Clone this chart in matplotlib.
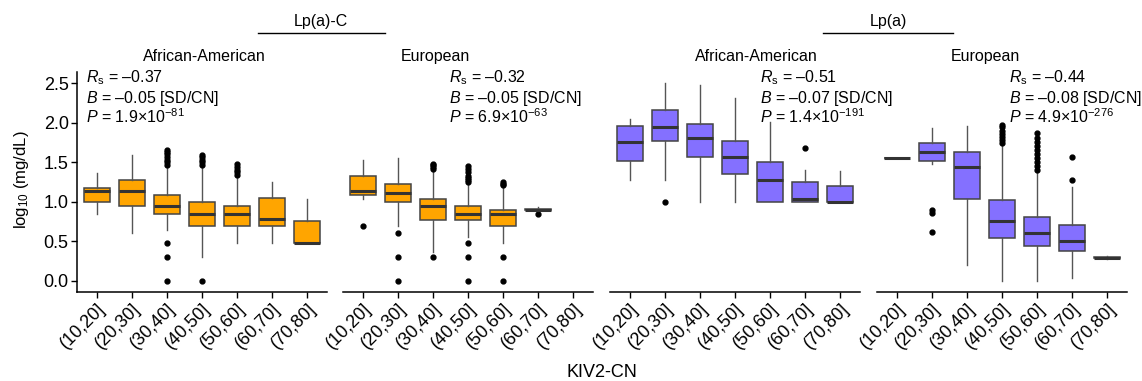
import matplotlib
matplotlib.use("Agg")
import matplotlib.pyplot as plt
import numpy as np

plt.rcParams['font.family'] = ['Liberation Sans', 'DejaVu Sans']
plt.rcParams['mathtext.fontset'] = 'custom'
plt.rcParams['mathtext.rm'] = 'Liberation Sans'
plt.rcParams['mathtext.it'] = 'Liberation Sans:italic'
plt.rcParams['mathtext.bf'] = 'Liberation Sans:bold'

bins = ["(10,20]", "(20,30]", "(30,40]", "(40,50]", "(50,60]", "(60,70]", "(70,80]"]

# Lp(a)-C, African-American
aa_c_lo = [0.85, 0.60, 0.64, 0.30, 0.475, 0.475, 0.477]
aa_c_q1 = [1.00, 0.95, 0.84, 0.695, 0.695, 0.695, 0.477]
aa_c_med = [1.14, 1.14, 0.95, 0.845, 0.845, 0.78, 0.477]
aa_c_q3 = [1.18, 1.275, 1.08, 1.00, 0.95, 1.05, 0.76]
aa_c_hi = [1.36, 1.59, 1.44, 1.455, 1.32, 1.25, 1.035]
aa_c_fl = [[], [],
           [0.0, 0.30, 0.475, 1.47, 1.50, 1.53, 1.56, 1.60, 1.63, 1.66],
           [0.0, 1.47, 1.50, 1.53, 1.56, 1.59],
           [1.34, 1.37, 1.40, 1.44, 1.48],
           [], []]

# Lp(a)-C, European
eu_c_lo = [1.035, 0.695, 0.36, 0.55, 0.475, 0.89, None]
eu_c_q1 = [1.085, 1.00, 0.77, 0.77, 0.695, 0.895, None]
eu_c_med = [1.14, 1.115, 0.95, 0.845, 0.845, 0.90, None]
eu_c_q3 = [1.325, 1.23, 1.04, 0.95, 0.90, 0.905, None]
eu_c_hi = [1.53, 1.55, 1.40, 1.21, 1.17, 0.93, None]
eu_c_fl = [[0.695],
           [0.0, 0.30, 0.60],
           [0.30, 1.42, 1.44, 1.46, 1.48],
           [0.0, 0.30, 0.475, 1.25, 1.28, 1.30, 1.33, 1.37, 1.41, 1.45],
           [0.0, 0.30, 1.21, 1.23, 1.25],
           [0.84], []]

# Lp(a), African-American
aa_a_lo = [1.28, 1.28, 1.00, 1.00, 1.00, 1.00, 1.00]
aa_a_q1 = [1.52, 1.77, 1.57, 1.35, 1.00, 1.00, 1.00]
aa_a_med = [1.75, 1.95, 1.80, 1.57, 1.275, 1.035, 1.00]
aa_a_q3 = [1.96, 2.16, 1.98, 1.77, 1.50, 1.25, 1.20]
aa_a_hi = [2.05, 2.50, 2.47, 2.31, 2.01, 1.40, 1.39]
aa_a_fl = [[], [1.00], [], [], [], [1.675], []]

# Lp(a), European
eu_a_lo = [1.55, 1.48, 0.20, 0.0, 0.0, 0.04, 0.28]
eu_a_q1 = [1.55, 1.51, 1.03, 0.54, 0.44, 0.38, 0.285]
eu_a_med = [1.55, 1.63, 1.44, 0.76, 0.60, 0.50, 0.295]
eu_a_q3 = [1.55, 1.74, 1.625, 1.02, 0.81, 0.71, 0.305]
eu_a_hi = [1.55, 1.93, 1.96, 1.72, 1.38, 1.19, 0.31]
eu_a_fl = [[], [0.615, 0.86, 0.90], [],
           [1.74, 1.78, 1.82, 1.86, 1.90, 1.94, 1.97],
           [1.40, 1.45, 1.50, 1.55, 1.60, 1.65, 1.70, 1.75, 1.80, 1.87],
           [1.275, 1.56], []]

titles = ["African-American", "European", "African-American", "European"]
stats_text = [("–0.37", "–0.05", "1.9", "-81"),
              ("–0.32", "–0.05", "6.9", "-63"),
              ("–0.51", "–0.07", "1.4", "-191"),
              ("–0.44", "–0.08", "4.9", "-276")]

panels = [
    (aa_c_lo, aa_c_q1, aa_c_med, aa_c_q3, aa_c_hi, aa_c_fl, "#FFA500"),
    (eu_c_lo, eu_c_q1, eu_c_med, eu_c_q3, eu_c_hi, eu_c_fl, "#FFA500"),
    (aa_a_lo, aa_a_q1, aa_a_med, aa_a_q3, aa_a_hi, aa_a_fl, "#8470FF"),
    (eu_a_lo, eu_a_q1, eu_a_med, eu_a_q3, eu_a_hi, eu_a_fl, "#8470FF"),
]

W, H = 1142, 381
fig = plt.figure(figsize=(W / 100, H / 100), dpi=100)

left_px = [77, 343, 610, 877]
title_x = [204, 435, 756, 985]
note_x = [86, 449, 760, 1009]
ax_w = 250
ax_top, ax_bot = 72, 292

for i, (lo, q1, med, q3, hi, fl, col) in enumerate(panels):
    ax = fig.add_axes([left_px[i] / W, 1 - ax_bot / H, ax_w / W, (ax_bot - ax_top) / H])
    stats = []
    pos = []
    for k in range(len(bins)):
        if med[k] is None:
            continue
        stats.append(dict(whislo=lo[k], q1=q1[k], med=med[k], q3=q3[k], whishi=hi[k], fliers=fl[k]))
        pos.append(k + 1)
    ax.bxp(stats, positions=pos, widths=0.75, patch_artist=True, showcaps=False,
           boxprops=dict(facecolor=col, edgecolor="#444444", linewidth=1.1),
           medianprops=dict(color="#333333", linewidth=2.2),
           whiskerprops=dict(color="#555555", linewidth=1.0),
           flierprops=dict(marker="o", markerfacecolor="black", markeredgecolor="black",
                           markersize=3.5, linestyle="none"))
    ax.set_xlim(0.43, 7.57)
    ax.set_ylim(-0.139, 2.639)
    ax.set_xticks(range(1, 8))
    ax.set_xticklabels(bins, rotation=45, ha="right", rotation_mode="anchor", fontsize=13)
    ax.spines[["top", "right"]].set_visible(False)
    ax.spines["bottom"].set_linewidth(1.1)
    ax.tick_params(axis="x", length=4, width=1, pad=2)
    if i == 0:
        ax.set_yticks([0.0, 0.5, 1.0, 1.5, 2.0, 2.5])
        ax.set_yticklabels(["0.0", "0.5", "1.0", "1.5", "2.0", "2.5"], fontsize=13)
        ax.spines["left"].set_linewidth(1.1)
        ax.tick_params(axis="y", length=4, width=1, pad=2)
    else:
        ax.spines["left"].set_visible(False)
        ax.set_yticks([])
    ax.patch.set_alpha(0)

    fig.text(title_x[i] / W, 1 - 61 / H, titles[i], ha="center", va="baseline", fontsize=11.5)
    r, b, p, e = stats_text[i]
    fig.text(note_x[i] / W, 1 - 82 / H, "$R_{\\mathrm{s}}$ = " + r, ha="left", va="baseline", fontsize=11.5)
    fig.text(note_x[i] / W, 1 - 103 / H, "$B$ = " + b + " [SD/CN]", ha="left", va="baseline", fontsize=11.5)
    fig.text(note_x[i] / W, 1 - 123 / H, "$P$ = " + p + "×10$^{" + e + "}$", ha="left", va="baseline", fontsize=11.5)

# group headers
fig.text(321 / W, 1 - 26 / H, "Lp(a)-C", ha="center", va="baseline", fontsize=11.5)
fig.add_artist(plt.Line2D([258 / W, 385 / W], [1 - 33 / H, 1 - 33 / H], color="black", linewidth=1.0))
fig.text(888 / W, 1 - 26 / H, "Lp(a)", ha="center", va="baseline", fontsize=11.5)
fig.add_artist(plt.Line2D([823 / W, 953 / W], [1 - 33 / H, 1 - 33 / H], color="black", linewidth=1.0))

fig.text(602 / W, 1 - 377 / H, "KIV2-CN", ha="center", va="baseline", fontsize=13)
fig.text(22 / W, 1 - 180 / H, "log$_{10}$ (mg/dL)", ha="center", va="center", rotation=90, fontsize=12)

fig.savefig("out.png", dpi=100)
